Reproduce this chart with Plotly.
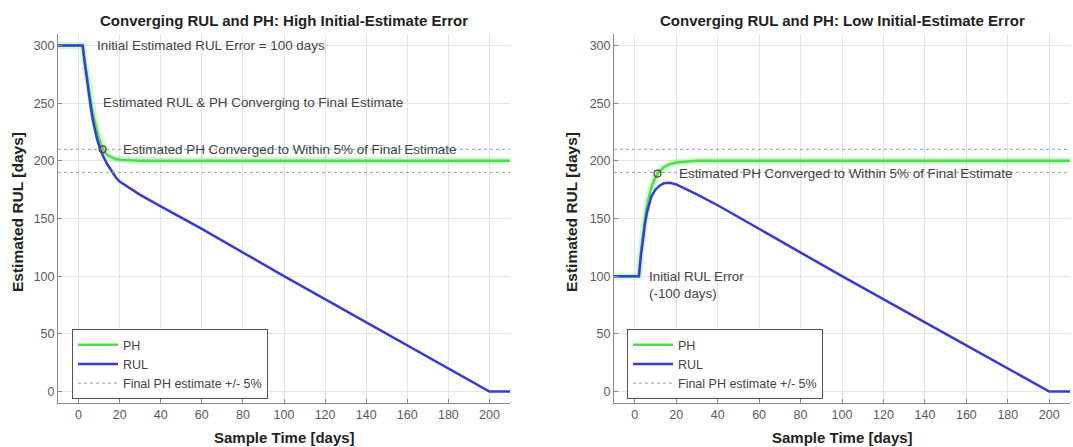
import plotly.graph_objects as go

# ---------------- data ----------------
# Left panel: high initial-estimate error
t_rul_hi = [-10, 2, 3, 4, 5, 6, 7, 8, 9, 10, 11, 12, 14, 16, 18, 20, 25, 30, 40, 60, 100, 150, 200, 210]
rul_hi = [300, 300, 285, 271, 258, 246, 235, 226, 219, 213, 208, 204, 197, 191, 186, 182, 176, 170.5, 160.5, 141, 100, 50, 0, 0]
t_ph_hi = [-10, 2, 3, 4, 5, 6, 7, 8, 9, 10, 11, 12, 13, 14, 16, 18, 20, 25, 30, 210]
ph_hi = [300, 300, 287, 274, 262, 251, 241, 233, 226, 219, 214, 210, 207, 205, 203, 201.5, 201, 200.5, 200, 200]
conv_hi = (11.7, 210)

# Right panel: low initial-estimate error
t_rul_lo = [-10, 2, 3, 4, 5, 6, 7, 8, 10, 12, 14, 17, 20, 25, 30, 40, 60, 100, 150, 200, 210]
rul_lo = [100, 100, 118, 133, 146, 156, 164, 169, 175, 178.5, 180.5, 181, 179.5, 175.5, 171, 161.5, 141, 100, 50, 0, 0]
t_ph_lo = [-10, 2, 3, 4, 5, 6, 7, 8, 10, 12, 14, 16, 20, 25, 30, 210]
ph_lo = [100, 100, 121, 137, 151, 162, 171, 177, 186, 191, 194.5, 196.5, 198.5, 199.5, 200, 200]
conv_lo = (11, 189)

band_t = [-10, 210]
band_hi = [210, 210]
band_lo = [190, 190]

x_ticks = [0, 20, 40, 60, 80, 100, 120, 140, 160, 180, 200]
y_ticks = [0, 50, 100, 150, 200, 250, 300]

titles = ["Converging RUL and PH: High Initial-Estimate Error",
          "Converging RUL and PH: Low Initial-Estimate Error"]
x_title = "Sample Time [days]"
y_title = "Estimated RUL [days]"

# ---------------- styles ----------------
GREEN = "#4fdc4f"
GLOW = "rgba(120,240,120,0.35)"
BLUE = "#3a3ad8"
DOT = "#9a9a9a"
FONT = "Liberation Sans, Arial, sans-serif"

fig = go.Figure()

panels = [
    dict(t_rul=t_rul_hi, rul=rul_hi, t_ph=t_ph_hi, ph=ph_hi, conv=conv_hi, xa="x", ya="y", leg="legend"),
    dict(t_rul=t_rul_lo, rul=rul_lo, t_ph=t_ph_lo, ph=ph_lo, conv=conv_lo, xa="x2", ya="y2", leg="legend2"),
]

for p in panels:
    fig.add_trace(go.Scatter(x=p["t_ph"], y=p["ph"], mode="lines", xaxis=p["xa"], yaxis=p["ya"],
                             line=dict(color=GLOW, width=7), showlegend=False, hoverinfo="skip"))
    fig.add_trace(go.Scatter(x=p["t_ph"], y=p["ph"], mode="lines", name="PH", xaxis=p["xa"], yaxis=p["ya"],
                             line=dict(color=GREEN, width=2.5), legend=p["leg"]))
    fig.add_trace(go.Scatter(x=p["t_rul"], y=p["rul"], mode="lines", name="RUL", xaxis=p["xa"], yaxis=p["ya"],
                             line=dict(color=BLUE, width=2.5), legend=p["leg"]))
    fig.add_trace(go.Scatter(x=band_t, y=band_hi, mode="lines", name="Final PH estimate +/- 5%",
                             xaxis=p["xa"], yaxis=p["ya"], line=dict(color=DOT, width=1, dash="dot"),
                             legend=p["leg"]))
    fig.add_trace(go.Scatter(x=band_t, y=band_lo, mode="lines", xaxis=p["xa"], yaxis=p["ya"],
                             line=dict(color=DOT, width=1, dash="dot"), showlegend=False))
    fig.add_trace(go.Scatter(x=[p["conv"][0]], y=[p["conv"][1]], mode="markers", xaxis=p["xa"], yaxis=p["ya"],
                             marker=dict(symbol="circle-open", size=7, color="#444444", line=dict(width=1.2)),
                             showlegend=False))

axis_common = dict(showgrid=True, gridcolor="#e4e4e4", gridwidth=1, zeroline=False,
                   showline=True, linecolor="#8a8a8a", linewidth=1, ticks="inside", ticklen=4,
                   tickcolor="#8a8a8a", tickfont=dict(family=FONT, size=12.5, color="#5a5a5a"),
                   mirror=False)

W, H = 1073, 447
y_dom = [(H - 403) / H, (H - 34) / H]
xd1 = [58 / W, 510 / W]
xd2 = [614 / W, 1070 / W]

leg_common = dict(xanchor="left", yanchor="middle", y=(H - 364) / H,
                  bgcolor="white", bordercolor="#555555", borderwidth=1,
                  font=dict(family=FONT, size=12.5, color="#444444"), tracegroupgap=0,
                  itemwidth=40)

fig.update_layout(
    width=W, height=H,
    margin=dict(l=0, r=0, t=0, b=0),
    paper_bgcolor="white", plot_bgcolor="white",
    font=dict(family=FONT, size=12, color="#333333"),
    xaxis=dict(domain=xd1, range=[-10, 210], tickvals=x_ticks, anchor="y", **axis_common),
    yaxis=dict(domain=y_dom, range=[-10, 310], tickvals=y_ticks, anchor="x", **axis_common),
    xaxis2=dict(domain=xd2, range=[-10, 210], tickvals=x_ticks, anchor="y2", **axis_common),
    yaxis2=dict(domain=y_dom, range=[-10, 310], tickvals=y_ticks, anchor="x2", **axis_common),
    legend=dict(x=72 / W, **leg_common),
    legend2=dict(x=627 / W, **leg_common),
    showlegend=True,
)

ann = []
for xc, txt in [((xd1[0] + xd1[1]) / 2, titles[0]), ((xd2[0] + xd2[1]) / 2, titles[1])]:
    ann.append(dict(x=xc, y=(H - 20) / H, xref="paper", yref="paper", text="<b>%s</b>" % txt,
                    showarrow=False, font=dict(family=FONT, size=15, color="#222222"),
                    xanchor="center", yanchor="middle"))
    ann.append(dict(x=xc, y=(H - 437) / H, xref="paper", yref="paper", text="<b>%s</b>" % x_title,
                    showarrow=False, font=dict(family=FONT, size=15, color="#222222"),
                    xanchor="center", yanchor="middle"))
for xp in [18, 572]:
    ann.append(dict(x=xp / W, y=(H - 212) / H, xref="paper", yref="paper", text="<b>%s</b>" % y_title,
                    showarrow=False, textangle=-90, font=dict(family=FONT, size=15.5, color="#222222"),
                    xanchor="center", yanchor="middle"))

txt_font = dict(family=FONT, size=13.4, color="#444444")
ann += [
    dict(x=7.8, y=300, xref="x", yref="y", text="Initial Estimated RUL Error = 100 days",
         showarrow=False, xanchor="left", yanchor="middle", font=txt_font),
    dict(x=10.7, y=251, xref="x", yref="y", text="Estimated RUL &amp; PH Converging to Final Estimate",
         showarrow=False, xanchor="left", yanchor="middle", font=txt_font),
    dict(x=20.5, y=210, xref="x", yref="y", text="Estimated PH Converged to Within 5% of Final Estimate",
         showarrow=False, xanchor="left", yanchor="middle", font=txt_font),
    dict(x=20.3, y=189, xref="x2", yref="y2", text="Estimated PH Converged to Within 5% of Final Estimate",
         showarrow=False, xanchor="left", yanchor="middle", font=txt_font),
    dict(x=5.8, y=100, xref="x2", yref="y2", text="Initial RUL Error",
         showarrow=False, xanchor="left", yanchor="middle", font=txt_font),
    dict(x=5.8, y=85, xref="x2", yref="y2", text="(-100 days)",
         showarrow=False, xanchor="left", yanchor="middle", font=txt_font),
]
fig.update_layout(annotations=ann)

fig.write_html("out.html", config={"displayModeBar": False},
               post_script="document.body.style.margin='0';document.body.style.overflow='hidden';")
